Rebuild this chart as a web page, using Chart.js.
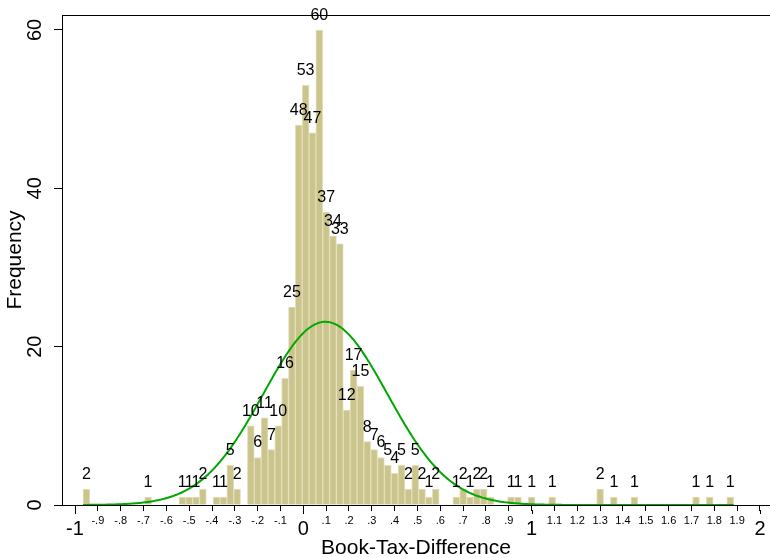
<!DOCTYPE html>
<html><head><meta charset="utf-8">
<script src="https://cdn.jsdelivr.net/npm/chart.js@4"></script>
<style>html,body{margin:0;padding:0;background:#fff}canvas{display:block}</style>
</head><body>
<canvas id="c" width="770" height="558"></canvas>
<script>
// ---- data ----
const firstBinCenter = -0.95;
const binWidth = 0.03;
const counts = [
  2,0,0,0,0,0,0,0,0,1,
  0,0,0,0,1,1,1,2,0,1,
  1,5,2,0,10,6,11,7,10,16,
  25,48,53,47,60,37,34,33,12,17,
  15,8,7,6,5,4,5,2,5,2,
  1,2,0,0,1,2,1,2,2,1,
  0,0,1,1,0,1,0,0,1,0,
  0,0,0,0,0,2,0,1,0,0,
  1,0,0,0,0,0,0,0,0,1,
  0,1,0,0,1
];
const xTickValues = [-1,-0.9,-0.8,-0.7,-0.6,-0.5,-0.4,-0.3,-0.2,-0.1,0,0.1,0.2,0.3,0.4,0.5,0.6,0.7,0.8,0.9,1,1.1,1.2,1.3,1.4,1.5,1.6,1.7,1.8,1.9,2];
const xTickLabels = ['-1','-.9','-.8','-.7','-.6','-.5','-.4','-.3','-.2','-.1','0','.1','.2','.3','.4','.5','.6','.7','.8','.9','1','1.1','1.2','1.3','1.4','1.5','1.6','1.7','1.8','1.9','2'];
const xMajorTicks = [-1, 0, 1, 2];
const yTickValues = [0, 20, 40, 60];
const yTickLabels = ['0', '20', '40', '60'];
const xTitle = 'Book-Tax-Difference';
const yTitle = 'Frequency';

// ---- build datasets ----
const centers = counts.map((c, i) => +(firstBinCenter + i * binWidth).toFixed(4));
const barData = counts.map((c, i) => ({x: centers[i], y: c}));

// normal density overlay from the histogram data (frequency scale)
const N = counts.reduce((a, b) => a + b, 0);
const mean = counts.reduce((a, c, i) => a + c * centers[i], 0) / N;
const sd = Math.sqrt(counts.reduce((a, c, i) => a + c * (centers[i] - mean) ** 2, 0) / (N - 1));
const lo = centers[0] - binWidth / 2, hi = centers[centers.length - 1] + binWidth / 2;
const curve = [];
for (let k = 0; k <= 400; k++) {
  const x = lo + (hi - lo) * k / 400;
  const y = N * binWidth / (sd * Math.sqrt(2 * Math.PI)) * Math.exp(-0.5 * ((x - mean) / sd) ** 2);
  curve.push({x, y});
}

Chart.defaults.font.family = "'Liberation Sans', Arial, sans-serif";
Chart.defaults.color = '#000';

const isMajor = v => xMajorTicks.some(m => Math.abs(m - v) < 1e-9);

const barLabels = {
  id: 'barLabels',
  afterDatasetsDraw(chart) {
    const meta = chart.getDatasetMeta(1);
    const ctx = chart.ctx;
    ctx.save();
    ctx.font = "16px 'Liberation Sans', Arial, sans-serif";
    ctx.fillStyle = '#000';
    ctx.textAlign = 'center';
    ctx.textBaseline = 'alphabetic';
    meta.data.forEach((el, i) => {
      if (counts[i] > 0) ctx.fillText(String(counts[i]), el.x, el.y - 10);
    });
    ctx.restore();
  }
};

const frame = {
  id: 'frame',
  afterDraw(chart) {
    const {ctx, chartArea} = chart;
    const xs = chart.scales.x;
    ctx.save();
    ctx.strokeStyle = '#000';
    ctx.lineWidth = 1;
    ctx.beginPath();
    ctx.moveTo(chartArea.left, chartArea.top + 0.5);
    ctx.lineTo(chartArea.right, chartArea.top + 0.5);
    xMajorTicks.forEach(v => {
      const px = Math.round(xs.getPixelForValue(v)) + 0.5;
      ctx.moveTo(px, chartArea.bottom + 5);
      ctx.lineTo(px, chartArea.bottom + 9);
    });
    ctx.stroke();
    ctx.restore();
  }
};

new Chart(document.getElementById('c'), {
  type: 'bar',
  data: {
    datasets: [
      {type: 'line', data: curve, borderColor: '#00a800', borderWidth: 2, pointRadius: 0, fill: false, tension: 0, order: 0},
      {type: 'bar', data: barData, backgroundColor: '#cbc58d', borderColor: '#e2dfbb', borderWidth: 1,
       barPercentage: 1, categoryPercentage: 1, order: 1}
    ]
  },
  options: {
    responsive: false,
    devicePixelRatio: 1,
    animation: false,
    events: [],
    layout: {padding: {top: 15, right: 0, left: 0, bottom: 0}},
    plugins: {legend: {display: false}, tooltip: {enabled: false}},
    scales: {
      x: {
        type: 'linear', offset: false, min: -1.057, max: 2.044,
        grid: {offset: false, drawOnChartArea: false, drawTicks: true, tickLength: 6, tickColor: '#000', tickWidth: 1},
        border: {display: true, color: '#000', width: 1},
        afterBuildTicks: s => { s.ticks = xTickValues.map(v => ({value: v})); },
        afterFit: s => { s.height = 53; s.paddingLeft = 0; s.paddingRight = 0; },
        ticks: {
          autoSkip: false, maxRotation: 0, minRotation: 0, padding: 2, color: '#000',
          callback: (v, i) => xTickLabels[i],
          font: ctx => (ctx.tick && isMajor(ctx.tick.value)) ? {size: 20, lineHeight: '32px'} : {size: 11, lineHeight: '15px'}
        },
        title: {display: true, text: xTitle, color: '#000', font: {size: 21, lineHeight: '20px'}, padding: {top: 0, bottom: 0}}
      },
      y: {
        type: 'linear', min: 0, max: 61.89,
        grid: {drawOnChartArea: false, drawTicks: true, tickLength: 8, tickColor: '#000', tickWidth: 1},
        border: {display: true, color: '#000', width: 1},
        afterBuildTicks: s => { s.ticks = yTickValues.map(v => ({value: v})); },
        afterFit: s => { s.width = 62; s.paddingTop = 0; s.paddingBottom = 0; },
        ticks: {
          autoSkip: false, minRotation: 90, maxRotation: 90, crossAlign: 'center', padding: 7, color: '#000',
          callback: (v, i) => yTickLabels[i],
          font: {size: 20}
        },
        title: {display: true, text: yTitle, color: '#000', font: {size: 21, lineHeight: '20px'}, padding: {top: 5, bottom: 0}}
      }
    }
  },
  plugins: [barLabels, frame]
});
</script>
</body></html>
